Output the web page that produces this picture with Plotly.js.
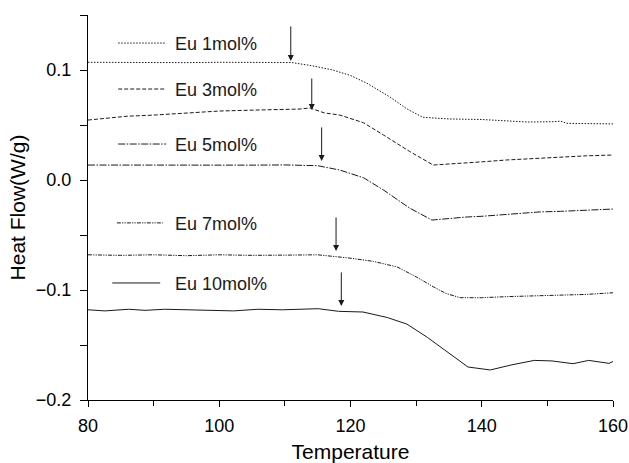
<!DOCTYPE html>
<html><head><meta charset="utf-8">
<script src="https://cdn.plot.ly/plotly-3.0.1.min.js"></script>
<style>html,body{margin:0;padding:0;background:#fff}#c{width:629px;height:463px}</style>
</head><body><div id="c"></div>
<script>
// Temperature and heat flow values per sample
const seriesNames = ['Eu 1mol%', 'Eu 3mol%', 'Eu 5mol%', 'Eu 7mol%', 'Eu 10mol%'];

const t1 = [80, 85, 90, 95, 100, 105, 110, 111, 114, 117.3, 120, 122.5, 126, 128.5, 131, 135, 140, 147, 151, 152, 153, 156, 160];
const y1 = [0.107, 0.1068, 0.107, 0.1067, 0.107, 0.1068, 0.107, 0.1068, 0.104, 0.100, 0.095, 0.088, 0.0755, 0.065, 0.057, 0.0555, 0.055, 0.0527, 0.053, 0.0535, 0.0515, 0.0512, 0.051];

const t2 = [80, 83, 86, 90, 95, 100, 105, 110, 112.3, 113.8, 116, 118.4, 122, 125, 129, 132.6, 136.7, 140, 143.8, 148, 152, 156, 160];
const y2 = [0.0545, 0.056, 0.058, 0.059, 0.061, 0.0627, 0.0635, 0.064, 0.0645, 0.0655, 0.061, 0.059, 0.052, 0.041, 0.026, 0.0136, 0.015, 0.0165, 0.0182, 0.0195, 0.021, 0.022, 0.0227];

const t3 = [80, 85, 90, 95, 100, 105, 110, 115, 118.4, 122, 125, 129, 132.4, 135, 137.8, 140, 144, 148.9, 152, 156, 160];
const y3 = [0.0136, 0.0135, 0.0138, 0.0136, 0.0137, 0.0135, 0.0137, 0.013, 0.009, 0.002, -0.009, -0.0255, -0.0364, -0.035, -0.0336, -0.033, -0.031, -0.029, -0.0285, -0.0275, -0.0264];

const t4 = [80, 85, 90, 95, 100, 105, 110, 115, 119.9, 123.5, 127.1, 130, 132.6, 134.5, 136.7, 140, 144, 147.8, 152, 156, 160];
const y4 = [-0.068, -0.0685, -0.068, -0.0688, -0.068, -0.0685, -0.0683, -0.068, -0.071, -0.074, -0.079, -0.088, -0.097, -0.103, -0.107, -0.107, -0.106, -0.1055, -0.105, -0.104, -0.1025];

const t5 = [80, 82.6, 86.2, 88.7, 91.7, 97.4, 102.2, 105.9, 109.6, 115.1, 118.2, 121.9, 125.6, 128.6, 131.7, 137.9, 141.3, 144.6, 148, 150.7, 153.9, 156.3, 159.4, 160];
const y5 = [-0.118, -0.119, -0.1175, -0.1185, -0.1175, -0.118, -0.119, -0.1175, -0.118, -0.117, -0.1194, -0.120, -0.125, -0.131, -0.143, -0.170, -0.1727, -0.168, -0.164, -0.1645, -0.167, -0.164, -0.1667, -0.165];

// Arrow markers (onset temperatures) and tip heat flow values
const arrowT = [110.9, 114.1, 115.6, 117.8, 118.6];
const arrowY = [0.1082, 0.0636, 0.0173, -0.0645, -0.1145];

const xTickVals = [80, 100, 120, 140, 160];
const yTickVals = [-0.2, -0.1, 0.0, 0.1];

// styling / placement (not data)
const dashes = ['1.5px,1.5px', '4px,2px', '7px,1.5px,1.5px,1.5px', '4px,1.2px,1.2px,1.2px,1.2px,1.2px', 'solid'];
const ink = '#1a1a1a';
const legendX0 = [84.6, 84.6, 84.6, 84.4, 83.7];
const legendX1 = [91.9, 91.9, 91.9, 91.4, 91.0];
const legendY = [0.1245, 0.0827, 0.0327, -0.039, -0.0936];
const arrowLen = [36, 33, 35, 35, 35];

const ts = [t1, t2, t3, t4, t5];
const ys = [y1, y2, y3, y4, y5];

const traces = ts.map((t, i) => ({
  x: t, y: ys[i], type: 'scatter', mode: 'lines', name: seriesNames[i],
  line: {color: ink, width: 1, dash: dashes[i]}, showlegend: false
}));
seriesNames.forEach((n, i) => {
  traces.push({x: [legendX0[i], legendX1[i]], y: [legendY[i], legendY[i]], type: 'scatter', mode: 'lines',
    line: {color: ink, width: 1, dash: dashes[i]}, showlegend: false, hoverinfo: 'skip'});
});

const annotations = [];
seriesNames.forEach((n, i) => {
  annotations.push({x: 92.9, y: legendY[i], xref: 'x', yref: 'y', text: n, showarrow: false,
    xanchor: 'left', yanchor: 'middle', yshift: -1, font: {size: 18, color: ink}});
});
arrowT.forEach((t, i) => {
  annotations.push({x: t, y: arrowY[i], xref: 'x', yref: 'y', text: '', showarrow: true,
    ax: 0, ay: -arrowLen[i], arrowhead: 2, arrowsize: 1.2, arrowwidth: 1, arrowcolor: ink, standoff: 0});
});

const layout = {
  width: 629, height: 463,
  margin: {l: 88, r: 16, t: 15, b: 63},
  paper_bgcolor: '#fff', plot_bgcolor: '#fff',
  font: {family: '"Liberation Sans", Arial, sans-serif', size: 18, color: '#000'},
  showlegend: false,
  xaxis: {
    range: [80, 160], tickvals: xTickVals, ticktext: xTickVals.map(String),
    showgrid: false, zeroline: false, showline: true, linecolor: '#000', linewidth: 1,
    ticks: 'outside', ticklen: 6, tickwidth: 1, tickcolor: '#000', ticklabelstandoff: 3,
    minor: {tickvals: [90, 110, 130, 150], ticks: 'outside', ticklen: 5, tickcolor: '#000', showgrid: false},
    title: {text: 'Temperature', font: {size: 21}, standoff: 14},
    automargin: false
  },
  yaxis: {
    range: [-0.2, 0.15], tickvals: yTickVals,
    ticktext: yTickVals.map(v => v.toFixed(1).replace('-', '\u2212') + '\u00a0'),
    showgrid: false, zeroline: false, showline: true, linecolor: '#000', linewidth: 1,
    ticks: 'outside', ticklen: 7, tickwidth: 1, tickcolor: '#000',
    minor: {tickvals: [-0.15, -0.05, 0.05, 0.15], ticks: 'outside', ticklen: 7, tickcolor: '#000', showgrid: false},
    title: {text: 'Heat Flow(W/g)', font: {size: 21}, standoff: 4},
    automargin: false
  },
  annotations: annotations
};
Plotly.newPlot('c', traces, layout, {displayModeBar: false, staticPlot: true});
</script></body></html>
